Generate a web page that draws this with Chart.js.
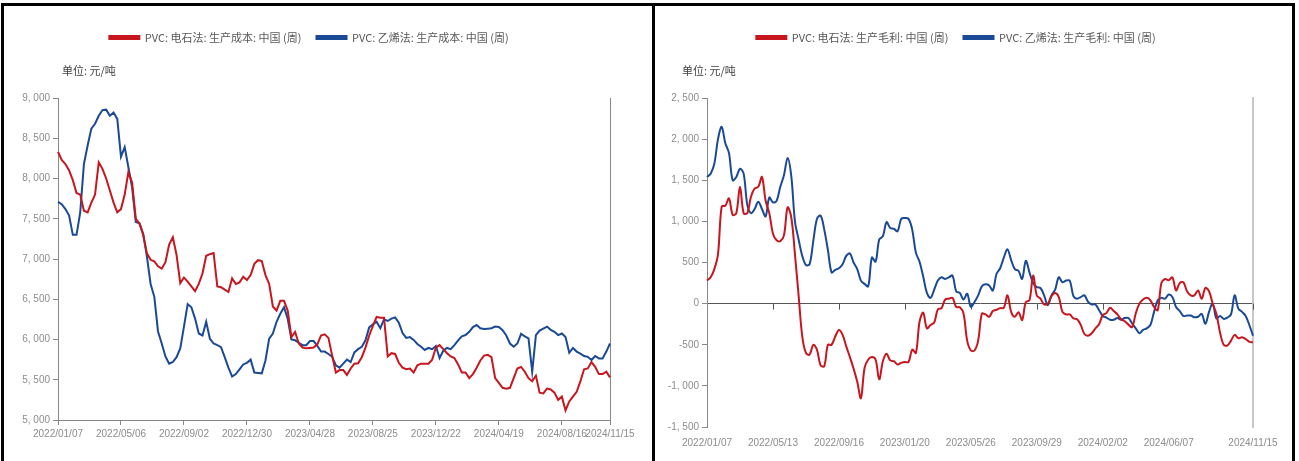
<!DOCTYPE html>
<html>
<head>
<meta charset="utf-8">
<script src="https://cdn.jsdelivr.net/npm/chart.js@4/dist/chart.umd.min.js"></script>
<style>
  html, body { margin: 0; padding: 0; background: #fff; }
  body { width: 1299px; height: 461px; position: relative; overflow: hidden; }
  .panel { position: absolute; top: 3px; height: 470px; box-sizing: border-box; border-top: 3px solid #000; border-left: 3px solid #000; }
  #p1 { left: 1px; width: 654px; }
  #p2 { left: 652px; width: 643px; border-right: 3px solid #000; }
  canvas { position: absolute; top: 6px; }
  #c1 { left: 4px; }
  #c2 { left: 655px; }
</style>
</head>
<body>
<div class="panel" id="p1"></div>
<div class="panel" id="p2"></div>
<canvas id="c1" width="648" height="455"></canvas>
<canvas id="c2" width="637" height="455"></canvas>
<script>
// 周度日期：2022/01/07 起
const weeks = [];
for (let i = 0; i < 150; i++) {
  const d = new Date(Date.UTC(2022, 0, 7 + i * 7));
  weeks.push(d.getUTCFullYear() + "/" + String(d.getUTCMonth() + 1).padStart(2, "0") + "/" + String(d.getUTCDate()).padStart(2, "0"));
}

const costNames = ["PVC: 电石法: 生产成本: 中国 (周)", "PVC: 乙烯法: 生产成本: 中国 (周)"];
const profitNames = ["PVC: 电石法: 生产毛利: 中国 (周)", "PVC: 乙烯法: 生产毛利: 中国 (周)"];
const unitText = "单位: 元/吨";

const costTicks = ["2022/01/07", "2022/05/06", "2022/09/02", "2022/12/30", "2023/04/28", "2023/08/25", "2023/12/22", "2024/04/19", "2024/08/16", "2024/11/15"];
const profitTicks = ["2022/01/07", "2022/05/13", "2022/09/16", "2023/01/20", "2023/05/26", "2023/09/29", "2024/02/02", "2024/06/07", "2024/11/15"];

// 电石法 生产成本
const costCarbide = [
  8330, 8230, 8180, 8100, 7980, 7820, 7800, 7600, 7580, 7700,
  7800, 8200, 8120, 8000, 7850, 7700, 7580, 7620, 7800, 8080,
  7950, 7500, 7440, 7300, 7070, 6990, 6970, 6910, 6880, 6960,
  7180, 7270, 7050, 6700, 6770, 6720, 6660, 6600, 6690, 6820,
  7040, 7060, 7075, 6660, 6650, 6620, 6590, 6760, 6690, 6710,
  6780, 6740, 6800, 6940, 6985, 6975, 6800, 6690, 6410, 6360,
  6480, 6480, 6360, 6030, 6095, 5950, 5900, 5890, 5895, 5900,
  5940, 6050, 6065, 6020, 5800, 5590, 5620, 5620, 5560, 5640,
  5700, 5705, 5780, 5900, 6050, 6170, 6280, 6270, 6270, 5790,
  5830, 5820, 5710, 5650, 5630, 5640, 5590, 5680, 5700, 5700,
  5700, 5750, 5900, 5930, 5880, 5830, 5790, 5770, 5690, 5590,
  5590, 5520, 5570, 5650, 5740, 5800, 5810, 5780, 5520, 5460,
  5400, 5390, 5400, 5520, 5640, 5660, 5600, 5520, 5480, 5550,
  5340, 5330, 5390, 5380, 5340, 5250, 5290, 5120, 5230, 5290,
  5350, 5480, 5630, 5640, 5720, 5660, 5570, 5570, 5600, 5530
];
// 乙烯法 生产成本
const costEthylene = [
  7710, 7680, 7620, 7540, 7300, 7300, 7580, 8180, 8410, 8620,
  8680, 8780, 8850, 8855, 8780, 8820, 8740, 8270, 8390, 8140,
  7890, 7460, 7445, 7310, 7030, 6690, 6530, 6100, 5950, 5790,
  5700, 5720, 5780, 5890, 6160, 6440, 6400, 6260, 6075, 6050,
  6220, 6010, 5950, 5930, 5905, 5780, 5650, 5540, 5570, 5630,
  5690, 5710, 5750, 5590, 5585, 5580, 5740, 6010, 6075, 6220,
  6320, 6400, 6260, 6000, 5990, 5960, 5930, 5930, 5980, 5980,
  5920, 5850, 5850, 5820, 5785, 5680, 5650, 5700, 5750, 5720,
  5840, 5880, 5910, 5990, 6150, 6190, 6220, 6140, 6250, 6230,
  6260, 6275, 6210, 6080, 6020, 6030, 5995, 5945, 5910, 5870,
  5895, 5880, 5920, 5770, 5860, 5895, 5880, 5930, 5990, 6040,
  6055, 6095, 6155, 6180, 6140, 6130, 6135, 6140, 6160, 6155,
  6115, 6050, 5950, 5910, 5950, 6070, 6040, 6015, 5600, 6055,
  6110, 6135, 6160, 6120, 6095, 6055, 6075, 6030, 5835, 5895,
  5850, 5825, 5795, 5785, 5745, 5795, 5765, 5765, 5850, 5950
];
// 电石法 生产毛利
const profitCarbide = [
  281, 320, 420, 600, 1180, 1190, 1280, 1080, 1100, 1420,
  1100, 1100, 1300, 1400, 1420, 1540, 1250, 1100, 850, 770,
  760, 830, 1170, 1050, 600, 100, -400, -600, -620, -500,
  -560, -750, -760, -500, -500, -400, -320, -380, -520, -650,
  -790, -950, -1150, -780, -680, -650, -680, -920, -700, -610,
  -690, -700, -740, -720, -710, -710, -560, -600, -220, -110,
  -300, -260, -230, -70, -55, 50, 60, 70, -40, -45,
  -120, -450, -570, -570, -450, -124, -130, -160, -90, -75,
  -55, -50, 100, -100, -160, -104, -200, 20, 40, 340,
  99, 60, -10, 0, 90, 130, 80, -100, -132, -132,
  -180, -190, -260, -370, -390, -360, -300, -250, -140, -116,
  -50, -90, -130, -190, -215, -255, -286, -120, 0, 50,
  70, 40, -40, -80, 250, 300, 285, 320, 160, 250,
  260, 150, 100, 100, 160, 60, 190, 150, 0, -124,
  -350, -500, -510, -450, -380, -420, -410, -430, -465, -470
];
// 乙烯法 生产毛利
const profitEthylene = [
  1540, 1580, 1700, 2000, 2150, 1950, 1830, 1500, 1540, 1640,
  1580, 1200, 1100, 1150, 1240, 1150, 1060, 1290, 1230, 1250,
  1420, 1560, 1770, 1550, 1000, 780, 580, 470, 480, 760,
  1030, 1070, 900, 650, 380, 410, 430, 480, 580, 610,
  500, 420, 280, 240, 210, 560, 510, 780, 820, 990,
  920, 910, 880, 1030, 1040, 1030, 900, 620, 510, 330,
  130, 70, 170, 280, 320, 300, 320, 340, 150, 130,
  50, 120, -40, 20, 100, 210, 235, 220, 160, 360,
  430, 560, 660, 530, 420, 400, 300, 520, 380, 250,
  200, 190, 100, -20, 100, 170, 320, 260, 280, 280,
  90, 60, 80, 100, 20, -10, -10, -80, -150, -170,
  -195, -195, -175, -195, -175, -175, -240, -300, -360, -320,
  -300, -260, -100, 40, 70, 60, 110, 80, -40, -90,
  -150, -145, -145, -165, -160, -125, -245, -100, 0, -180,
  -150, -185, -170, -130, 100, -60, -100, -150, -260, -390
];

const RED = "#C8161E";
const BLUE = "#1A4A96";
const TICKFONT = { family: '"Liberation Sans", Arial, sans-serif', size: 10 };
const CJK = '"Noto Sans CJK SC", sans-serif';

function fmtNum(v) {
  const a = Math.abs(v);
  const s = a >= 1000 ? Math.floor(a / 1000) + ", " + String(a % 1000).padStart(3, "0") : String(a);
  return (v < 0 ? "-" : "") + s;
}

function series(label, data, color, tension) {
  return { label, data, borderColor: color, backgroundColor: color, borderWidth: 2, pointRadius: 0, tension };
}

const legendOpts = {
  position: "top",
  labels: { boxWidth: 30, boxHeight: 3, padding: 15, color: "#595959", font: { family: CJK, size: 11 } }
};

// 单位标注：图例与绘图区之间的一条
function unitLabel(dx) {
  return {
    id: "unitLabel",
    beforeInit(chart) {
      const opts = { position: "top", weight: 500, fullSize: true };
      Chart.layouts.addBox(chart, {
        options: opts, position: "top", weight: 500, fullSize: true,
        left: 0, top: 0, right: 0, bottom: 0, width: 0, height: 0,
        isHorizontal() { return true; },
        update(maxWidth) { this.width = maxWidth; this.height = 45; },
        draw() {
          const ctx = chart.ctx;
          ctx.save();
          ctx.font = "11px " + CJK;
          ctx.fillStyle = "#404040";
          ctx.textBaseline = "middle";
          ctx.fillText(unitText, chart.chartArea.left + dx, this.top + 18);
          ctx.restore();
        }
      });
    }
  };
}

// 左图：生产成本
new Chart(document.getElementById("c1"), {
  type: "line",
  data: {
    labels: weeks,
    datasets: [series(costNames[0], costCarbide, RED, 0), series(costNames[1], costEthylene, BLUE, 0)]
  },
  options: {
    responsive: false,
    animation: false,
    layout: { padding: { left: 4, right: 42, top: 11, bottom: 11 } },
    plugins: { legend: legendOpts, tooltip: { enabled: false } },
    scales: {
      x: {
        offset: false,
        grid: { display: true, drawOnChartArea: false, color: "#888", tickLength: 5 },
        border: { color: "#888" },
        ticks: {
          autoSkip: false, maxRotation: 0, padding: 3, color: "#8c8c8c", font: TICKFONT,
          callback(v) { const l = this.getLabelForValue(v); return costTicks.includes(l) ? l : null; }
        },
        afterFit(s) { s.height = 30; }
      },
      y: {
        min: 5000, max: 9000,
        grid: { drawOnChartArea: false, color: "#888", tickLength: 5 },
        border: { color: "#888" },
        ticks: { stepSize: 500, padding: 3, color: "#8c8c8c", font: TICKFONT, callback: fmtNum },
        afterFit(s) { s.width = 50; }
      },
      y2: {
        position: "right", min: 5000, max: 9000,
        grid: { display: false, drawTicks: false },
        border: { color: "#888" },
        ticks: { display: false },
        afterFit(s) { s.width = 0; }
      }
    }
  },
  plugins: [unitLabel(4)]
});

// 零轴刻度
const zeroTicks = {
  id: "zeroTicks",
  beforeDatasetsDraw(chart) {
    const x = chart.scales.x, y = chart.scales.y, ctx = chart.ctx;
    const y0 = y.getPixelForValue(0);
    ctx.save();
    ctx.strokeStyle = "#555";
    ctx.lineWidth = 1;
    weeks.forEach((w, i) => {
      if (!profitTicks.includes(w) || i === 0) return;
      const px = Math.round(x.getPixelForValue(i)) + 0.5;
      ctx.beginPath();
      ctx.moveTo(px, y0);
      ctx.lineTo(px, y0 + 6);
      ctx.stroke();
    });
    ctx.restore();
  }
};

// 右图：生产毛利
new Chart(document.getElementById("c2"), {
  type: "line",
  data: {
    labels: weeks,
    datasets: [series(profitNames[0], profitCarbide, RED, 0.35), series(profitNames[1], profitEthylene, BLUE, 0.35)]
  },
  options: {
    responsive: false,
    animation: false,
    layout: { padding: { left: 4, right: 39, top: 11, bottom: 4 } },
    plugins: { legend: legendOpts, tooltip: { enabled: false } },
    scales: {
      x: {
        offset: false,
        grid: { display: false, drawTicks: false },
        border: { display: false },
        ticks: {
          autoSkip: false, maxRotation: 0, padding: 10, color: "#8c8c8c", font: TICKFONT,
          callback(v) { const l = this.getLabelForValue(v); return profitTicks.includes(l) ? l : null; }
        },
        afterFit(s) { s.height = 30; }
      },
      y: {
        min: -1500, max: 2500,
        grid: { color: c => (c.tick && c.tick.value === 0 ? "#555" : "rgba(0,0,0,0)"), tickColor: "#888", tickLength: 5 },
        border: { color: "#888" },
        ticks: { stepSize: 500, padding: 3, color: "#8c8c8c", font: TICKFONT, callback: fmtNum },
        afterFit(s) { s.width = 48; }
      },
      y2: {
        position: "right", min: -1500, max: 2500,
        grid: { display: false, drawTicks: false },
        border: { color: "#c8c8c8", width: 2 },
        ticks: { display: false },
        afterFit(s) { s.width = 0; }
      }
    }
  },
  plugins: [zeroTicks, unitLabel(-25)]
});
</script>
</body>
</html>
